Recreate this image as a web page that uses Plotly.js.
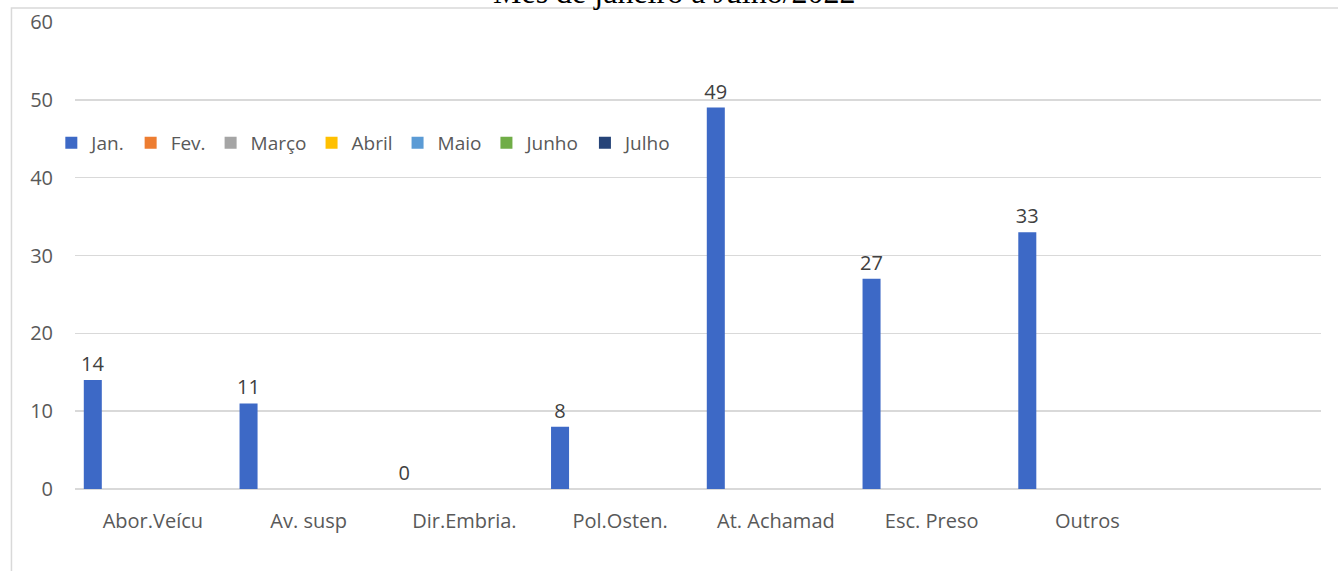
<!DOCTYPE html>
<html>
<head>
<meta charset="utf-8">
<script src="https://cdn.plot.ly/plotly-3.0.1.min.js"></script>
<style>html,body{margin:0;padding:0;background:#fff;}#chart{width:1338px;height:571px;}</style>
</head>
<body>
<div id="chart"></div>
<script>
const categories = ["Abor.Veícu", "Av. susp", "Dir.Embria.", "Pol.Osten.", "At. Achamad", "Esc. Preso", "Outros"];
const seriesNames = ["Jan.", "Fev.", "Março", "Abril", "Maio", "Junho", "Julho"];
const seriesColors = ["#4472C4", "#ED7D31", "#A5A5A5", "#FFC000", "#5B9BD5", "#70AD47", "#264478"];
const jan = [14, 11, 0, 8, 49, 27, 33];
const fev = [null, null, null, null, null, null, null];
const marco = [null, null, null, null, null, null, null];
const abril = [null, null, null, null, null, null, null];
const maio = [null, null, null, null, null, null, null];
const junho = [null, null, null, null, null, null, null];
const julho = [null, null, null, null, null, null, null];
const yTicks = [0, 10, 20, 30, 40, 50, 60];
const titleText = "Mês de janeiro a Julho/2022";

const allSeries = [jan, fev, marco, abril, maio, junho, julho];
const FONT = "Open Sans, Noto Sans, sans-serif";

const traces = allSeries.map((vals, i) => ({
  type: 'bar',
  name: seriesNames[i],
  x: categories,
  y: vals,
  marker: {color: i === 0 ? '#3d69c6' : seriesColors[i]},
  text: i === 0 ? vals.map(v => String(v)) : undefined,
  textposition: i === 0 ? 'outside' : 'none',
  constraintext: 'none',
  textfont: {family: FONT, size: 20, color: '#404040'},
  cliponaxis: false,
  hoverinfo: 'none'
}));

const layout = {
  width: 1338, height: 571,
  margin: {l: 75, r: 17, t: 22, b: 82},
  paper_bgcolor: '#ffffff',
  plot_bgcolor: '#ffffff',
  barmode: 'group',
  bargap: 0.1,
  bargroupgap: 0.1,
  showlegend: true,
  legend: {
    orientation: 'h', x: -0.019, xanchor: 'left', y: 0.741, yanchor: 'middle',
    font: {family: FONT, size: 19, color: '#595959'},
    itemwidth: 30, tracegroupgap: 0, bgcolor: 'rgba(0,0,0,0)'
  },
  xaxis: {
    type: 'category', range: [-0.5, 7.5],
    showgrid: false, zeroline: false, showline: false, ticks: '',
    tickfont: {family: FONT, size: 20, color: '#595959'},
    ticklabelstandoff: 18
  },
  yaxis: {
    range: [0, 60], tickvals: yTicks, ticktext: yTicks.map(String),
    showgrid: true, gridcolor: '#d9d9d9', gridwidth: 1.5,
    zeroline: true, zerolinecolor: '#d9d9d9', zerolinewidth: 1.5,
    showline: false, ticks: '',
    tickfont: {family: FONT, size: 20, color: '#595959'},
    ticklabelstandoff: 21
  },
  shapes: [{
    type: 'rect', xref: 'paper', yref: 'paper', layer: 'below',
    x0: -0.051, x1: 1.02, y0: -0.25, y1: 1.03,
    line: {color: '#d9d9d9', width: 1.5}, fillcolor: 'rgba(0,0,0,0)'
  }],
  annotations: [{
    text: titleText, xref: 'paper', yref: 'paper', x: 0.4815, y: 1.0214,
    xanchor: 'center', yanchor: 'bottom', showarrow: false,
    font: {family: 'Liberation Serif, Times New Roman, serif', size: 32, color: '#000000'}
  }]
};

Plotly.newPlot('chart', traces, layout, {displayModeBar: false, staticPlot: true});
</script>
</body>
</html>
